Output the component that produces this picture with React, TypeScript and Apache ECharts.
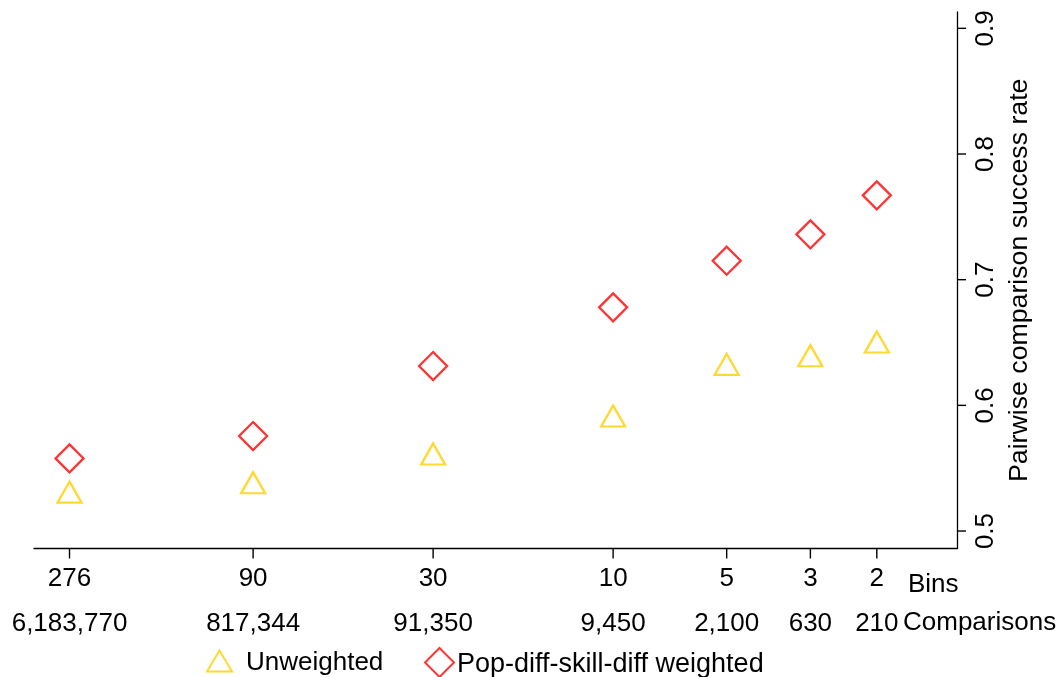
import React, { useEffect, useRef } from 'react';
import * as echarts from 'echarts';

const bins = [276, 90, 30, 10, 5, 3, 2];
const comparisons = [6183770, 817344, 91350, 9450, 2100, 630, 210];
const unweighted = [0.531, 0.5384, 0.5613, 0.5915, 0.6326, 0.6395, 0.6504];
const weighted = [0.5578, 0.5756, 0.6313, 0.678, 0.7151, 0.7361, 0.7671];
const yTicks = [0.5, 0.6, 0.7, 0.8, 0.9];
const seriesNames = ['Unweighted', 'Pop-diff-skill-diff weighted'];
const yTitle = 'Pairwise comparison success rate';
const rowTitles = ['Bins', 'Comparisons'];

const X_MIN = 1.226;
const X_MAX = 342.8;
const Y_MIN = 0.4861;
const Y_MAX = 0.913;

const FONT = '"Liberation Sans", Arial, Helvetica, sans-serif';
const RED = '#FF0000';
const GOLD = '#FFD000';

export default function App() {
  const ref = useRef<HTMLDivElement>(null);
  useEffect(() => {
    document.body.style.margin = '0';
    const chart = echarts.init(ref.current!, null, { renderer: 'svg' });
    const compLabel = (v: number) => {
      let idx = 0;
      let best = Infinity;
      bins.forEach((b, i) => {
        const d = Math.abs(Math.log(b) - Math.log(v));
        if (d < best) { best = d; idx = i; }
      });
      return { bin: bins[idx], comp: comparisons[idx].toLocaleString('en-US') };
    };
    const tickStyle = { stroke: '#000', lineWidth: 1.4 };
    chart.setOption({
      animation: false,
      textStyle: { fontFamily: FONT, color: '#000' },
      grid: { left: 34, right: 105, top: 12, bottom: 128.5 },
      xAxis: {
        type: 'log',
        position: 'bottom',
        inverse: true,
        min: X_MIN,
        max: X_MAX,
        axisLine: { lineStyle: { color: '#000', width: 1.3 } },
        axisTick: { show: false },
        axisLabel: {
          customValues: bins,
          margin: 6,
          color: '#000',
          fontFamily: FONT,
          formatter: (v: number) => {
            const o = compLabel(v);
            return `{a|${o.bin}}\n{b|${o.comp}}`;
          },
          rich: {
            a: { fontSize: 26, lineHeight: 45, fontFamily: FONT, color: '#000' },
            b: { fontSize: 26, lineHeight: 45, fontFamily: FONT, color: '#000' },
          },
        },
        splitLine: { show: false },
      },
      yAxis: {
        type: 'value',
        position: 'right',
        min: Y_MIN,
        max: Y_MAX,
        name: yTitle,
        nameLocation: 'middle',
        nameRotate: 90,
        nameGap: 43,
        nameTextStyle: { fontSize: 26.7, fontFamily: FONT, color: '#000' },
        axisLine: { show: true, lineStyle: { color: '#000', width: 1.3 } },
        axisTick: { show: false },
        axisLabel: {
          customValues: yTicks,
          rotate: 90,
          margin: 14,
          fontSize: 26,
          fontFamily: FONT,
          color: '#000',
          formatter: (v: number) => String(Math.round(v * 10) / 10),
        },
        splitLine: { show: false },
      },
      legend: [
        {
          data: [seriesNames[0]],
          left: 201,
          top: 643,
          itemWidth: 25,
          itemHeight: 21,
          textStyle: { fontSize: 26, fontFamily: FONT, color: '#000', padding: [0, 0, 0, 9] },
        },
        {
          data: [seriesNames[1]],
          left: 419,
          top: 642,
          itemWidth: 29,
          itemHeight: 29,
          textStyle: { fontSize: 27, fontFamily: FONT, color: '#000', padding: [0, 0, 0, -2] },
        },
      ],
      graphic: [
        {
          type: 'text',
          left: 908,
          top: 570,
          style: { text: rowTitles[0], fontSize: 26, fontFamily: FONT, fill: '#000' },
        },
        {
          type: 'text',
          left: 903,
          top: 608,
          style: { text: rowTitles[1], fontSize: 26, fontFamily: FONT, fill: '#000' },
        },
      ],
      series: [
        {
          name: seriesNames[0],
          type: 'scatter',
          symbol: 'triangle',
          symbolSize: [24, 21],
          itemStyle: { color: 'rgba(0,0,0,0)', borderColor: GOLD, borderWidth: 2.3 },
          data: bins.map((b, i) => [b, unweighted[i]]),
        },
        {
          name: seriesNames[1],
          type: 'scatter',
          symbol: 'diamond',
          symbolSize: 28,
          itemStyle: { color: 'rgba(0,0,0,0)', borderColor: RED, borderWidth: 2.3 },
          data: bins.map((b, i) => [b, weighted[i]]),
        },
        {
          // x-axis tick marks at each bin
          name: 'xticks',
          type: 'custom',
          clip: false,
          silent: true,
          data: bins.map((b) => [b, Y_MIN]),
          renderItem: (_p: any, api: any) => {
            const c = api.coord([api.value(0), api.value(1)]);
            return { type: 'line', shape: { x1: c[0], y1: c[1], x2: c[0], y2: c[1] + 10 }, style: tickStyle };
          },
        },
        {
          // y-axis tick marks
          name: 'yticks',
          type: 'custom',
          clip: false,
          silent: true,
          data: yTicks.map((t) => [X_MIN, t]),
          renderItem: (_p: any, api: any) => {
            const c = api.coord([api.value(0), api.value(1)]);
            return { type: 'line', shape: { x1: c[0], y1: c[1], x2: c[0] + 9, y2: c[1] }, style: tickStyle };
          },
        },
      ],
    });
    return () => chart.dispose();
  }, []);
  return <div ref={ref} style={{ position: 'fixed', left: 0, top: 0, width: 1062, height: 677 }} />;
}
